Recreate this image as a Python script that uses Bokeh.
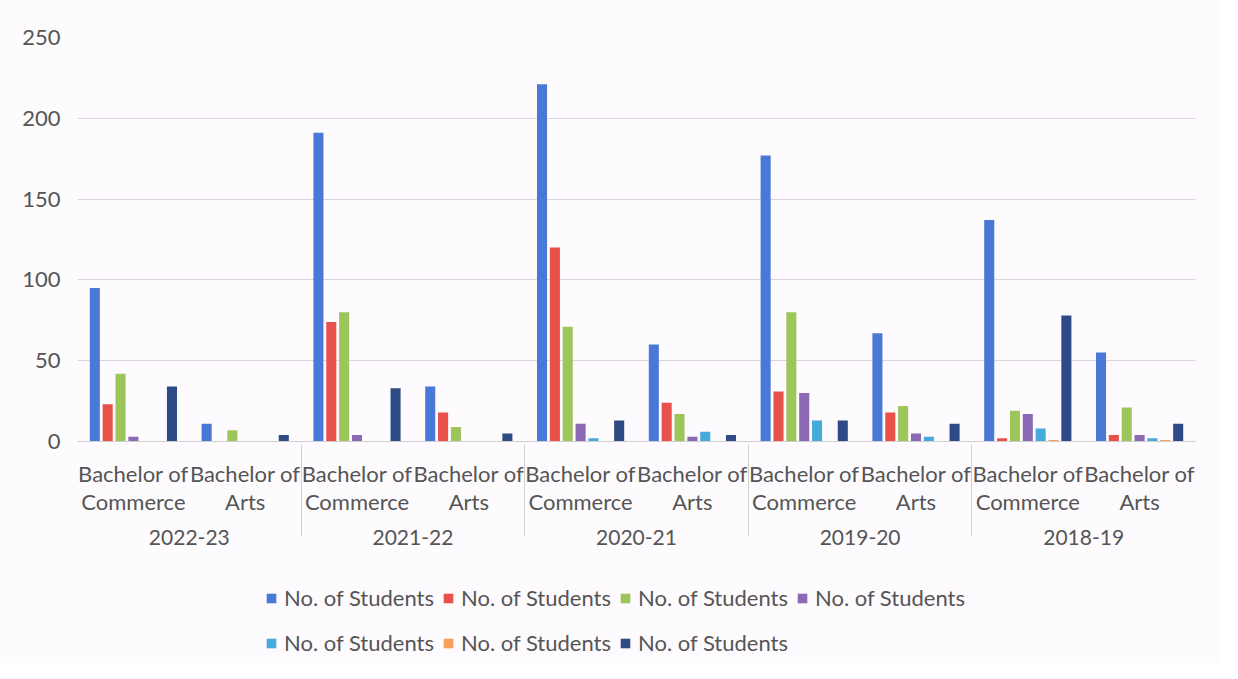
from bokeh.plotting import figure
from bokeh.layouts import column
from bokeh.models import (FactorRange, ColumnDataSource, Legend, LegendItem, Range1d,
                          SingleIntervalTicker)
from bokeh.transform import dodge
from bokeh.embed import file_html
from bokeh.resources import INLINE

years = ["2022-23", "2021-22", "2020-21", "2019-20", "2018-19"]
programs = ["Bachelor of\nCommerce", "Bachelor of\nArts"]
series_label = "No. of Students"

s1 = [95, 11, 191, 34, 221, 60, 177, 67, 137, 55]
s2 = [23, 0, 74, 18, 120, 24, 31, 18, 2, 4]
s3 = [42, 7, 80, 9, 71, 17, 80, 22, 19, 21]
s4 = [3, 0, 4, 0, 11, 3, 30, 5, 17, 4]
s5 = [0, 0, 0, 0, 2, 6, 13, 3, 8, 2]
s6 = [0, 0, 0, 0, 0, 0, 0, 0, 1, 1]
s7 = [34, 4, 33, 5, 13, 4, 13, 11, 78, 11]

colors = ["#4a78d6", "#e8504a", "#9cc55a", "#8b69b4", "#46aadb", "#f6a05a", "#2d4b84"]

factors = [(y, pr) for y in years for pr in programs]
data = {"x": factors}
all_series = [s1, s2, s3, s4, s5, s6, s7]
for i, s in enumerate(all_series):
    data[f"s{i}"] = s
src = ColumnDataSource(data)

FONT = "Lato"
TXT = "#555555"
BG = "#fdfbfd"

p = figure(x_range=FactorRange(*factors, group_padding=0, factor_padding=0, range_padding=0),
           y_range=Range1d(0, 250),
           frame_width=1118, frame_height=404, output_backend="svg", toolbar_location=None,
           background_fill_color=BG, border_fill_color=BG,
           min_border_left=77, min_border_right=25, min_border_top=37, min_border_bottom=130)

step = 0.115
renderers = []
for i in range(7):
    r = p.vbar(x=dodge("x", (i - 3) * step, range=p.x_range), top=f"s{i}", width=0.09,
               source=src, color=colors[i], line_color=None)
    renderers.append(r)

p.outline_line_color = None
p.xgrid.grid_line_color = None
p.ygrid.grid_line_color = "#ddd3de"
p.ygrid.grid_line_width = 1.2
p.yaxis.ticker = SingleIntervalTicker(interval=50)
p.yaxis.axis_line_color = None
p.yaxis.major_tick_line_color = None
p.yaxis.minor_tick_line_color = None
p.yaxis.major_label_text_font = FONT
p.yaxis.major_label_text_font_size = "22px"
p.yaxis.major_label_text_color = TXT
p.yaxis.major_label_standoff = 11

xa = p.xaxis[0]
xa.axis_line_color = "#cfcfcf"
xa.major_tick_line_color = None
xa.minor_tick_line_color = None
xa.major_label_text_font = FONT
xa.major_label_text_font_size = "22px"
xa.major_label_text_color = TXT
xa.major_label_text_line_height = 1.07
xa.major_label_standoff = 12
xa.group_text_font = FONT
xa.group_text_font_size = "21px"
xa.group_text_color = TXT
xa.group_text_font_style = "normal"
xa.separator_line_color = "#d0d0d0"
xa.separator_line_width = 1

# legend lives in a strip below the chart (placeholder renderers carry only the styles)
lf = figure(x_range=Range1d(0, 1), y_range=Range1d(0, 1), frame_width=1220, frame_height=92,
            output_backend="svg", toolbar_location=None, x_axis_location=None,
            y_axis_location=None, background_fill_color=BG, border_fill_color=BG,
            min_border=0)
lf.grid.grid_line_color = None
lf.outline_line_color = None
nan = float("nan")
leg_renderers = []
for i in range(7):
    leg_renderers.append(lf.vbar(x=[nan], top=[nan], width=0.1, color=colors[i], line_color=None))

items = [LegendItem(label=series_label, renderers=[r]) for r in leg_renderers]
legend = Legend(items=items, ncols=4, orientation="horizontal", location=(265, 2),
                label_text_font=FONT, label_text_font_size="22px", label_text_color=TXT,
                glyph_width=12, glyph_height=12, spacing=8, label_standoff=7,
                border_line_color=None, background_fill_alpha=0, padding=0, margin=0,
                label_height=37)
lf.add_layout(legend)

layout = column(p, lf, spacing=0, styles={"background-color": BG})
open("out.html", "w").write(file_html(layout, INLINE))
